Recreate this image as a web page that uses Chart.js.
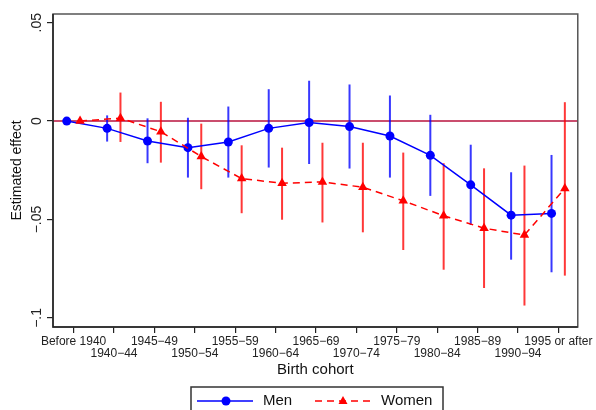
<!DOCTYPE html>
<html>
<head>
<meta charset="utf-8">
<script src="https://cdn.jsdelivr.net/npm/chart.js@4"></script>
<style>
  body { margin: 0; background: #fff; }
</style>
</head>
<body>
<canvas id="grafico" width="596" height="410"></canvas>
<script>
const cohorts = ["Before 1940", "1940\u221244", "1945\u221249", "1950\u221254", "1955\u221259", "1960\u221264",
  "1965\u221269", "1970\u221274", "1975\u221279", "1980\u221284", "1985\u221289", "1990\u221294", "1995 or after"];

const menEst = [0, -0.0037, -0.0101, -0.0135, -0.0106, -0.0037, -0.0007, -0.0028, -0.0076, -0.0174, -0.0324, -0.0478, -0.0469];
const menLo = [null, -0.0104, -0.0214, -0.0287, -0.0287, -0.0236, -0.0218, -0.0241, -0.0287, -0.0380, -0.0528, -0.0704, -0.0768];
const menHi = [null, 0.0029, 0.0014, 0.0017, 0.0074, 0.0162, 0.0205, 0.0186, 0.0130, 0.0032, -0.0120, -0.0260, -0.0172];

const womenEst = [0, 0.0015, -0.0054, -0.0180, -0.0292, -0.0316, -0.0309, -0.0336, -0.0405, -0.0481, -0.0544, -0.0579, -0.0342];
const womenLo = [null, -0.0106, -0.0211, -0.0346, -0.0468, -0.0501, -0.0515, -0.0565, -0.0655, -0.0755, -0.0848, -0.0937, -0.0785];
const womenHi = [null, 0.0145, 0.0098, -0.0013, -0.0123, -0.0135, -0.0110, -0.0110, -0.0160, -0.0214, -0.0240, -0.0226, 0.0096];

const yTicks = [0.05, 0, -0.05, -0.1];
const yTickLabels = [".05", "0", "\u2212.05", "\u2212.1"];

// horizontal shift of each series around its cohort tick
const menShift = -0.17;
const womenShift = 0.16;

const FONT = "'Liberation Sans', Arial, Helvetica, sans-serif";

const series = [
  { est: menEst, lo: menLo, hi: menHi, shift: menShift, color: "rgba(0,0,255,0.78)" },
  { est: womenEst, lo: womenLo, hi: womenHi, shift: womenShift, color: "rgba(255,0,0,0.78)" }
];

const errorBars = {
  id: "errorBars",
  beforeDatasetsDraw(chart) {
    const { ctx, chartArea: a, scales: { x, y } } = chart;
    ctx.save();
    // linha de referencia em zero
    const y0 = y.getPixelForValue(0);
    ctx.strokeStyle = "#b8123e";
    ctx.lineWidth = 1.5;
    ctx.beginPath();
    ctx.moveTo(a.left, y0);
    ctx.lineTo(a.right, y0);
    ctx.stroke();

    series.forEach(s => {
      ctx.strokeStyle = s.color;
      ctx.lineWidth = 2;
      s.lo.forEach((lo, i) => {
        if (lo === null) return;
        const px = x.getPixelForValue(i + s.shift);
        ctx.beginPath();
        ctx.moveTo(px, y.getPixelForValue(lo));
        ctx.lineTo(px, y.getPixelForValue(s.hi[i]));
        ctx.stroke();
      });
    });
    ctx.restore();
  },
  afterDraw(chart) {
    const { ctx, chartArea: a, scales: { y } } = chart;
    ctx.save();
    // moldura
    ctx.strokeStyle = "#555";
    ctx.lineWidth = 1.5;
    ctx.strokeRect(a.left, a.top, a.right - a.left, a.bottom - a.top);
    ctx.strokeStyle = "#222";
    ctx.beginPath();
    ctx.moveTo(a.left, a.top);
    ctx.lineTo(a.left, a.bottom);
    ctx.lineTo(a.right, a.bottom);
    ctx.stroke();

    // rotulos do eixo y, girados
    ctx.fillStyle = "#222";
    ctx.font = "14px " + FONT;
    ctx.textAlign = "center";
    ctx.textBaseline = "middle";
    yTicks.forEach((v, i) => {
      ctx.save();
      ctx.translate(37, y.getPixelForValue(v));
      ctx.rotate(-Math.PI / 2);
      ctx.fillText(yTickLabels[i], 0, 0);
      ctx.restore();
    });

    // legenda
    ctx.strokeStyle = "#333";
    ctx.lineWidth = 1.5;
    ctx.strokeRect(191, 387, 252, 40);
    const ly = 401;
    ctx.strokeStyle = "#0000ff";
    ctx.lineWidth = 1.5;
    ctx.beginPath();
    ctx.moveTo(197, ly);
    ctx.lineTo(253, ly);
    ctx.stroke();
    ctx.fillStyle = "#0000ff";
    ctx.beginPath();
    ctx.arc(226, ly, 4.5, 0, Math.PI * 2);
    ctx.fill();

    ctx.strokeStyle = "#ff0000";
    ctx.setLineDash([7, 5]);
    ctx.beginPath();
    ctx.moveTo(315, ly);
    ctx.lineTo(372, ly);
    ctx.stroke();
    ctx.setLineDash([]);
    ctx.fillStyle = "#ff0000";
    ctx.beginPath();
    ctx.moveTo(343, ly - 5);
    ctx.lineTo(347.5, ly + 3);
    ctx.lineTo(338.5, ly + 3);
    ctx.closePath();
    ctx.fill();

    ctx.fillStyle = "#111";
    ctx.font = "15px " + FONT;
    ctx.textAlign = "left";
    ctx.fillText("Men", 263, ly);
    ctx.fillText("Women", 381, ly);
    ctx.restore();
  }
};

const ctx = document.getElementById("grafico");
const grafico = new Chart(ctx, {
  type: "line",
  data: {
    datasets: [
      {
        label: "Men",
        data: menEst.map((v, i) => ({ x: i + menShift, y: v })),
        borderColor: "#0000ff",
        backgroundColor: "#0000ff",
        borderWidth: 1.5,
        pointStyle: "circle",
        pointRadius: 4.5,
        pointBorderWidth: 0,
        order: 2
      },
      {
        label: "Women",
        data: womenEst.map((v, i) => ({ x: i + womenShift, y: v })),
        borderColor: "#ff0000",
        backgroundColor: "#ff0000",
        borderWidth: 1.5,
        borderDash: [7, 5],
        pointStyle: "triangle",
        pointRadius: 5.5,
        pointBorderWidth: 0,
        order: 1
      }
    ]
  },
  options: {
    responsive: false,
    animation: false,
    layout: { padding: { top: 14, right: 16, bottom: 31, left: 0 } },
    plugins: { legend: { display: false }, tooltip: { enabled: false } },
    scales: {
      x: {
        type: "linear",
        min: -0.51,
        max: 12.48,
        afterBuildTicks: s => { s.ticks = cohorts.map((c, i) => ({ value: i })); },
        afterFit: s => { s.height = 52; },
        grid: { drawOnChartArea: false, tickLength: 6, color: "#222", lineWidth: 1.2 },
        border: { display: false },
        ticks: {
          autoSkip: false,
          maxRotation: 0,
          minRotation: 0,
          padding: 3,
          color: "#222",
          font: { family: FONT, size: 12, lineHeight: 0.96 },
          callback: (v, i) => (i % 2 ? ["", cohorts[i]] : cohorts[i])
        },
        title: {
          display: true,
          text: "Birth cohort",
          color: "#111",
          font: { family: FONT, size: 15 },
          padding: { top: 0, bottom: 0 }
        }
      },
      y: {
        min: -0.1046,
        max: 0.0544,
        afterBuildTicks: s => { s.ticks = yTicks.map(v => ({ value: v })); },
        afterFit: s => { s.width = 53; },
        grid: { drawOnChartArea: false, tickLength: 6, color: "#222", lineWidth: 1.2 },
        border: { display: false },
        ticks: { display: false },
        title: {
          display: true,
          text: "Estimated effect",
          color: "#111",
          font: { family: FONT, size: 14 },
          padding: { top: 9, bottom: 0 }
        }
      }
    }
  },
  plugins: [errorBars]
});
</script>
</body>
</html>
